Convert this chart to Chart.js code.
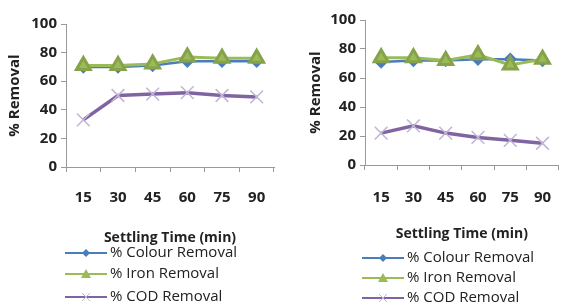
<!DOCTYPE html>
<html>
<head>
<meta charset="utf-8">
<script src="https://cdn.jsdelivr.net/npm/chart.js@4/dist/chart.umd.min.js"></script>
<style>
  html, body { margin: 0; padding: 0; background: #fff; }
  #wrap { position: relative; width: 571px; height: 306px; overflow: hidden; }
  .box { position: absolute; top: 0; height: 306px; }
</style>
</head>
<body>
<div id="wrap">
  <div class="box" style="left:0;width:285px"><canvas id="left"></canvas></div>
  <div class="box" style="left:285px;width:286px"><canvas id="right"></canvas></div>
</div>
<script>
// datos
const times = ['15', '30', '45', '60', '75', '90'];
const yTicks = [0, 20, 40, 60, 80, 100];
const seriesNames = ['% Colour Removal', '% Iron Removal', '% COD Removal'];

const leftColour = [70, 70, 71, 74, 74, 74];
const leftIron   = [71, 71, 72, 77, 76, 76];
const leftCOD    = [33, 50, 51, 52, 50, 49];

const rightColour = [71, 72, 72, 73, 73, 72];
const rightIron   = [74, 74, 72, 76, 69, 73];
const rightCOD    = [22, 27, 22, 19, 17, 15];

const BLUE = '#4a7ebb', GREEN = '#9bbb59', PURPLE = '#8064a2';
const FONT = "'Open Sans', sans-serif";

// leyenda vertical dibujada a mano debajo del titulo del eje x
const legendPlugin = {
  id: 'stackLegend',
  afterDraw(chart, args, opts) {
    const ctx = chart.ctx;
    ctx.save();
    chart.data.datasets.forEach(function(ds, i) {
      const y = opts.rows[i], x0 = opts.x, x1 = opts.x + opts.len, xm = (x0 + x1) / 2;
      ctx.strokeStyle = ds.borderColor;
      ctx.lineWidth = 2;
      ctx.beginPath(); ctx.moveTo(x0, y); ctx.lineTo(x1, y); ctx.stroke();
      ctx.fillStyle = ds.pointBackgroundColor;
      ctx.strokeStyle = ds.pointBorderColor;
      ctx.lineWidth = 1;
      if (ds.pointStyle === 'rectRot') {
        ctx.beginPath(); ctx.moveTo(xm, y - 4); ctx.lineTo(xm + 4, y); ctx.lineTo(xm, y + 4); ctx.lineTo(xm - 4, y); ctx.closePath(); ctx.fill();
      } else if (ds.pointStyle === 'triangle') {
        ctx.beginPath(); ctx.moveTo(xm, y - 5); ctx.lineTo(xm + 5, y + 4); ctx.lineTo(xm - 5, y + 4); ctx.closePath(); ctx.fill();
      } else {
        ctx.beginPath(); ctx.moveTo(xm - 4, y - 4); ctx.lineTo(xm + 4, y + 4); ctx.moveTo(xm + 4, y - 4); ctx.lineTo(xm - 4, y + 4); ctx.stroke();
      }
      ctx.fillStyle = '#222';
      ctx.font = '15px ' + FONT;
      ctx.textBaseline = 'middle';
      ctx.textAlign = 'left';
      ctx.fillText(seriesNames[i], x1 + 3, y);
    });
    ctx.restore();
  }
};

function makeChart(id, colour, iron, cod, o) {
  return new Chart(document.getElementById(id), {
    type: 'line',
    data: {
      labels: times,
      datasets: [
        { label: seriesNames[0], data: colour, borderColor: BLUE, borderWidth: 2.5,
          pointStyle: 'rectRot', pointRadius: 5, pointBackgroundColor: BLUE, pointBorderColor: BLUE, order: 1 },
        { label: seriesNames[1], data: iron, borderColor: GREEN, borderWidth: 3,
          pointStyle: 'triangle', pointRadius: 8, pointBackgroundColor: GREEN, pointBorderColor: '#86a34a', order: 0 },
        { label: seriesNames[2], data: cod, borderColor: PURPLE, borderWidth: 3.5,
          pointStyle: 'crossRot', pointRadius: 9, pointBackgroundColor: '#c1b4d6', pointBorderColor: '#c1b4d6', pointBorderWidth: 1.5, order: 2 }
      ]
    },
    options: {
      responsive: false,
      animation: false,
      devicePixelRatio: 1,
      layout: { padding: { left: o.padLeft, right: o.padRight, top: o.top, bottom: o.padBottom } },
      plugins: {
        legend: { display: false },
        tooltip: { enabled: false },
        stackLegend: { x: o.legX, len: 42, rows: o.legRows }
      },
      scales: {
        x: {
          offset: true,
          border: { color: '#999', width: 1 },
          grid: { offset: true, drawOnChartArea: false, drawTicks: true, tickLength: 5, color: '#999' },
          ticks: { padding: o.xTickPad, color: '#222', font: { family: FONT, size: 15, weight: 'bold' } },
          title: { display: true, text: 'Settling Time (min)', color: '#222', padding: { top: o.xTitlePad, bottom: 0 },
                   font: { family: FONT, size: 14, weight: 'bold' } },
          afterFit(s) { s.height = o.xHeight; }
        },
        y: {
          min: yTicks[0], max: yTicks[yTicks.length - 1],
          border: { color: '#999', width: 1 },
          grid: { drawOnChartArea: false, drawTicks: true, tickLength: 5, color: '#999' },
          ticks: { stepSize: yTicks[1] - yTicks[0], padding: 4, color: '#222', font: { family: FONT, size: 15, weight: 'bold' } },
          title: { display: true, text: '% Removal', color: '#222', padding: 2,
                   font: { family: FONT, size: 15, weight: 'bold' } },
          afterFit(s) { s.width = o.yWidth; }
        }
      }
    },
    plugins: [legendPlugin]
  });
}

document.getElementById('left').width = 285;
document.getElementById('left').height = 306;
document.getElementById('right').width = 286;
document.getElementById('right').height = 306;

makeChart('left', leftColour, leftIron, leftCOD, {
  padLeft: 4, padRight: 10, top: 24, padBottom: 60, yWidth: 62, xHeight: 79,
  xTickPad: 17, xTitlePad: 20, legX: 65, legRows: [253, 274, 297]
});
makeChart('right', rightColour, rightIron, rightCOD, {
  padLeft: 20, padRight: 1, top: 20, padBottom: 64, yWidth: 60, xHeight: 77,
  xTickPad: 19, xTitlePad: 16, legX: 77, legRows: [258, 278, 298]
});
</script>
</body>
</html>
